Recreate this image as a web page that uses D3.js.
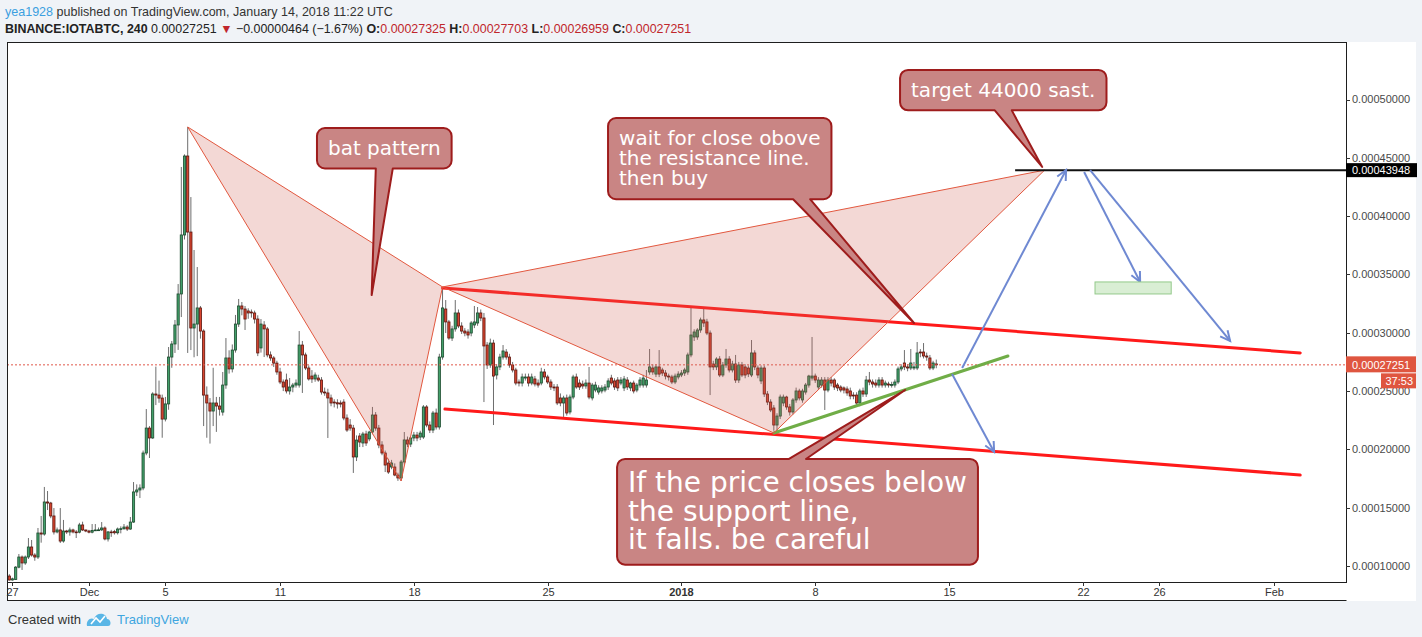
<!DOCTYPE html>
<html>
<head>
<meta charset="utf-8">
<script src="https://cdn.jsdelivr.net/npm/d3@7"></script>
<style>
  html, body { margin: 0; padding: 0; background: #f0f3f7; }
  svg { display: block; }
</style>
</head>
<body>
<svg id="chart" width="1422" height="637"></svg>
<script>
// BINANCE:IOTABTC 4h candles, prices in satoshi, first bar opens 2017-11-26 20:00 UTC
const firstBar = '2017-11-26T20:00:00Z';
const barHours = 4;
const ohlc = [
  [9140, 9300, 8750, 8800], [8800, 9000, 8750, 8900], [8850, 10000, 8800, 9900], [9900, 11030, 9800, 10770],
  [10770, 10900, 9660, 10260], [10260, 10900, 10100, 10770], [10770, 12400, 10600, 11630], [11630, 12230, 10800, 10940],
  [10940, 11100, 10450, 10770], [10770, 13260, 10600, 12830], [12830, 14290, 12000, 12740], [12740, 16780, 12600, 15490],
  [15490, 16430, 14800, 15400], [15400, 15500, 14100, 14290], [14290, 14970, 12700, 12920], [12920, 13300, 12800, 13090],
  [13090, 14970, 11970, 12140], [12140, 13950, 12000, 13000], [13000, 13100, 12750, 12920], [12920, 13300, 12600, 13090],
  [13090, 13200, 12800, 12920], [12920, 13090, 12400, 12900], [12900, 13700, 12800, 13520], [13520, 13800, 13000, 13090],
  [13090, 13100, 12900, 13000], [13000, 13100, 12800, 12900], [12900, 13600, 12800, 13050], [13050, 13600, 13000, 13090],
  [13090, 13300, 13000, 13100], [13100, 13770, 13000, 13260], [13260, 13400, 12200, 12320], [12320, 13000, 12100, 12920],
  [12920, 13100, 12500, 12900], [12950, 13100, 12700, 12850], [12850, 13300, 12700, 13170], [13170, 13400, 12800, 13200],
  [13200, 13600, 13100, 13340], [13340, 13500, 13000, 13170], [13170, 14200, 13100, 13770], [13770, 17200, 13700, 16350],
  [16350, 17000, 16000, 16520], [16520, 17000, 15830, 16690], [16690, 19900, 16500, 19690],
  [19690, 23460, 19500, 21830], [21830, 22000, 19260, 20980], [20980, 24900, 20900, 24750], [24750, 27100, 23800, 24660],
  [24660, 25900, 24000, 24400], [24400, 24700, 21000, 22600], [22600, 24500, 22400, 23900], [23900, 28780, 23400, 27920],
  [27920, 29300, 27000, 29040], [29040, 31100, 28270, 30670], [30670, 34180, 28530, 33330], [33330, 44220, 31350, 38390],
  [38390, 45300, 38000, 45160], [45160, 47650, 28270, 38640], [38640, 41640, 28520, 30410], [30410, 37100, 27900, 30750],
  [30750, 35640, 28000, 32130], [32130, 32300, 29500, 30150], [30150, 30300, 22000, 24660], [24660, 25400, 21000, 23980],
  [23980, 24400, 20500, 23290], [23290, 27000, 22000, 23980], [23980, 24500, 21500, 23720],
  [23720, 24500, 22900, 23450], [23200, 26640, 22900, 25520], [25520, 29550, 25200, 27840], [27840, 28500, 26500, 26900],
  [26900, 29000, 26600, 28520], [28520, 31530, 28300, 30750], [30750, 32900, 30500, 32300], [32300, 32640, 31500, 32040],
  [32040, 32300, 30240, 31180], [31870, 32100, 31200, 31700], [31780, 32000, 31300, 31700], [31700, 31900, 30800, 31180],
  [31180, 31500, 28000, 28270], [28700, 31180, 28300, 30750], [30670, 31000, 27920, 30330], [30330, 30500, 27900, 28100],
  [28100, 28400, 27600, 27840], [27840, 28000, 27070, 27400], [27400, 27600, 26400, 26640], [26640, 27000, 25600, 25780],
  [25780, 26000, 25000, 25350], [25950, 26500, 24800, 25010], [25010, 26120, 24700, 25350], [25350, 25700, 24900, 25520],
  [25520, 26000, 25300, 25690], [25520, 30150, 25300, 28950], [28950, 29300, 24840, 28100], [28100, 28300, 26800, 26980],
  [26980, 27200, 25900, 26040], [26290, 26800, 25700, 26040], [26040, 26600, 25800, 26380], [26120, 26400, 25800, 25950],
  [25950, 26200, 24700, 24920], [24920, 25300, 24600, 24840], [24840, 25200, 20980, 24410], [24410, 24700, 23700, 23980],
  [24060, 24300, 23600, 23980], [24000, 24300, 23500, 23900], [23980, 24200, 23600, 23890], [24060, 24300, 22500, 22690],
  [22690, 23000, 21500, 21660], [22090, 22600, 21600, 21830], [21830, 22100, 17980, 19350], [19350, 21200, 19000, 20800],
  [21150, 21400, 20200, 20630], [20550, 21500, 20200, 21320], [21320, 21600, 20300, 20550], [20900, 21600, 20700, 21490],
  [21490, 23640, 21300, 22950], [22950, 23200, 21600, 21830], [21830, 22100, 20100, 20380], [20380, 20700, 19500, 19690],
  [19690, 19900, 18060, 18660], [18830, 19200, 17900, 18060], [18490, 19100, 18300, 18830], [18490, 18800, 17700, 17800],
  [17800, 18000, 17300, 17550], [17550, 19100, 17290, 18920], [18920, 21490, 18700, 20810], [20810, 21100, 20200, 20460],
  [20460, 21000, 20200, 20980], [20980, 21500, 20700, 21230], [21230, 21500, 20700, 20980], [21060, 21600, 20800, 21400],
  [21060, 23800, 20900, 23640], [23640, 23800, 21900, 22090], [22090, 22400, 21400, 21660], [21660, 23300, 21400, 23120],
  [23120, 23500, 21700, 21920], [21920, 28200, 21700, 27920], [27920, 33930, 27700, 32130],
  [32040, 32810, 29980, 30930], [30930, 31100, 29400, 29550], [29550, 30600, 29300, 30330], [30330, 32810, 30100, 31700],
  [31700, 32000, 30400, 30580], [30580, 30900, 29900, 30150], [30150, 30400, 29700, 29980], [30070, 30300, 29500, 29810],
  [29980, 31000, 29700, 30840], [30670, 32300, 30400, 30930], [30840, 32210, 30600, 31700], [31700, 32000, 31000, 31270],
  [31270, 31700, 24060, 28870], [28950, 29200, 26900, 27240], [27240, 29500, 27000, 29120], [29120, 29400, 22090, 26290],
  [26380, 27300, 26000, 27070], [27070, 28200, 26800, 27920], [27920, 28950, 27700, 28440], [28350, 28600, 27700, 27920],
  [27920, 28200, 27000, 27240], [27240, 27500, 26600, 26810], [26810, 27000, 25500, 25690], [25780, 26000, 25400, 25690],
  [25690, 26500, 25400, 26210], [26120, 26500, 25900, 26210], [26210, 26500, 25400, 25690], [25690, 26500, 25500, 26210],
  [26040, 26300, 25400, 25610], [25690, 26000, 25300, 25520], [25690, 27000, 25500, 26640], [26640, 26900, 26000, 26210],
  [26210, 26400, 25600, 25780], [25780, 26000, 25100, 25350], [25350, 25600, 25000, 25270], [25350, 25600, 23800, 23980],
  [24410, 24800, 23700, 23980], [23980, 24600, 22780, 24410], [24410, 24700, 22900, 23120], [23210, 24700, 23000, 24490],
  [24490, 26400, 24300, 26210], [26210, 26500, 25200, 25350], [25690, 26000, 25100, 25350], [25600, 25900, 25200, 25440],
  [25440, 26000, 25200, 25690], [25690, 27070, 24300, 24490], [24410, 25700, 24200, 25520], [25090, 25800, 24900, 25520],
  [24920, 25500, 24700, 25270], [25010, 25500, 24800, 25270], [25090, 25600, 24900, 25350], [25350, 26100, 25100, 25870],
  [26120, 26400, 25500, 25690], [25870, 26100, 25100, 25350], [25950, 26200, 25000, 25270], [25690, 26200, 25500, 25950],
  [25270, 26300, 25000, 26040], [25950, 26200, 25100, 25350], [25270, 25800, 25000, 25690], [25690, 25900, 24800, 25010],
  [25090, 25700, 24900, 25520], [25520, 26200, 25300, 25950], [25520, 26400, 25300, 26120], [25520, 26810, 25300, 25950],
  [26640, 28610, 26400, 27070], [26980, 27300, 26400, 26640], [26460, 27300, 26200, 27070], [27070, 28520, 26200, 26460],
  [26810, 27000, 26300, 26550], [26550, 26800, 26000, 26290], [26290, 26500, 25900, 26210], [26210, 26400, 25600, 25780],
  [25780, 26500, 25600, 26290], [26210, 26700, 26000, 26460], [26380, 26800, 26200, 26550], [26550, 27000, 26300, 26810],
  [26640, 28300, 26400, 28100], [28100, 32130, 27900, 29810], [29640, 30300, 29300, 30070], [29640, 30400, 29400, 30240],
  [30240, 31300, 30000, 31100], [31100, 32040, 30500, 30840], [30930, 31200, 29800, 29980], [29980, 30200, 24660, 27070],
  [27320, 27600, 26800, 27070], [27070, 27900, 26800, 27750], [27750, 28000, 26200, 26380], [26380, 27500, 26200, 27240],
  [27240, 28610, 27000, 27750], [27750, 28000, 26600, 26810], [26810, 27600, 26600, 27320], [27320, 28100, 25700, 25950],
  [25950, 27500, 25700, 27240], [27240, 27500, 26200, 26380], [27070, 27300, 26100, 26380], [26980, 27200, 26200, 26470],
  [26380, 29380, 26200, 28270], [28270, 28500, 26800, 27070], [26980, 27200, 26100, 26380], [25870, 27200, 25600, 26980],
  [26980, 27200, 24500, 24750], [24750, 25000, 23800, 24060], [24060, 24300, 23200, 23380], [23550, 23800, 21600, 22090],
  [22090, 23100, 21410, 22860], [22860, 24700, 22600, 24490], [23980, 24700, 23700, 24490], [24490, 24600, 23400, 23640],
  [23640, 23900, 22900, 23210], [23210, 24400, 23000, 24240], [24240, 25300, 24000, 25010], [25010, 25200, 24200, 24410],
  [24240, 25200, 24000, 25010], [24920, 25700, 24700, 25520], [25520, 26400, 25300, 26290], [26120, 29640, 25900, 26290],
  [26290, 26500, 25700, 25950], [25350, 26200, 25100, 25950], [25520, 26200, 25300, 25950], [25950, 26200, 23380, 25090],
  [25090, 26200, 24900, 25950], [25950, 26200, 25400, 25690], [25950, 26100, 25100, 25350], [25520, 25700, 25000, 25270],
  [25350, 25500, 24900, 25090], [25270, 25400, 24800, 25090], [25180, 25400, 24600, 24840],
  [25010, 25300, 24300, 24580], [24660, 24900, 24300, 24580], [24660, 24900, 23800, 23980], [23980, 25200, 23700, 25010],
  [25010, 25300, 24500, 24750], [24750, 26300, 24500, 25950], [25950, 26640, 25500, 25780], [25780, 26000, 25300, 25610],
  [25690, 26000, 25300, 25520], [25520, 26200, 25300, 25950], [25950, 26200, 25300, 25520], [25520, 25900, 25300, 25690],
  [25610, 25800, 25300, 25520], [25520, 25800, 25300, 25560], [25520, 26000, 25300, 25780], [25780, 27100, 25600, 26900],
  [26900, 27300, 26700, 27070], [27410, 28520, 26800, 27070], [27070, 27300, 26700, 26980], [26980, 28610, 26800, 27410],
  [26980, 27500, 26800, 27070], [26980, 29210, 26800, 28270], [28350, 28600, 27900, 28270], [28350, 29120, 27800, 28010],
  [28010, 28300, 27600, 27920], [27840, 28100, 26800, 26980], [26980, 27600, 26800, 27410], [27325, 27703, 26959, 27251]
];

const priceTicks = [0.0001, 0.00015, 0.0002, 0.00025, 0.0003, 0.00035, 0.0004, 0.00045, 0.0005];
const timeTicks = [
  ['2017-11-27', '27'], ['2017-12-01', 'Dec'], ['2017-12-05', '5'], ['2017-12-11', '11'],
  ['2017-12-18', '18'], ['2017-12-25', '25'], ['2018-01-01', '2018'], ['2018-01-08', '8'],
  ['2018-01-15', '15'], ['2018-01-22', '22'], ['2018-01-26', '26'], ['2018-02-01', 'Feb']
];
const boldTickLabels = ['2018'];

const lastPrice = 0.00027251;
const targetPrice = 0.00043948;
const barCountdown = '37:53';

// drawings, anchored as [time (UTC), price in satoshi]
const batPoints = [
  ['2017-12-06T04:00', 47650], ['2017-12-17T08:00', 17290], ['2017-12-19T12:00', 33930],
  ['2018-01-05T20:00', 21410], ['2018-01-20T00:00', 43948]
];
const resistanceLine = [['2017-12-19T12:00', 33840], ['2018-02-02T09:00', 28270]];
const supportLine = [['2017-12-19T15:00', 23460], ['2018-02-02T09:00', 17800]];
const trendLine = [['2018-01-05T20:00', 21410], ['2018-01-18T02:00', 28010]];
const targetLineFrom = '2018-01-18T11:00';
const projectionArrows = [
  [['2018-01-15T16:30', 26980], ['2018-01-21T03:00', 43960]],
  [['2018-01-22T01:40', 43790], ['2018-01-25T00:00', 34360]],
  [['2018-01-22T09:10', 43960], ['2018-01-29T17:00', 29300]],
  [['2018-01-15T03:50', 26470], ['2018-01-17T08:40', 19780]]
];
const targetZone = [['2018-01-22T15:20', 34360], ['2018-01-26T15:00', 33330]];

const calloutText = [
  ['bat pattern'],
  ['wait for close obove', 'the resistance line.', 'then buy'],
  ['target 44000 sast.'],
  ['If the price closes below', 'the support line,', 'it falls. be careful']
];
const calloutBox = [
  ['2017-12-12T22:20', 47560], ['2017-12-28T03:50', 48420],
  ['2018-01-12T10:30', 52540], ['2017-12-28T15:10', 19180]
];
const calloutTip = [
  ['2017-12-15T19:00', 33240], ['2018-01-13T04:00', 30840],
  ['2018-01-19T21:00', 44220], ['2018-01-12T16:50', 25090]
];
const calloutFontSize = [20, 20, 20, 28];
const calloutBaseAt = [0.5, 0.93, 0.5, 0.5];

// ---- layout ----
const plot = {left: 7, right: 1346, top: 42, bottom: 582};
const axisRight = 1416;
const svg = d3.select('#chart');

const x = d3.scaleUtc()
  .domain([new Date('2017-11-26T18:21:00Z'), new Date('2018-02-04T18:30:00Z')])
  .range([8, plot.right]);
const y = d3.scaleLinear()
  .domain([0.00008628, 0.00054938])
  .range([plot.bottom, plot.top]);

const sat = v => v / 1e8;
const t = s => new Date(s.length <= 10 ? s + 'T00:00:00Z' : s + ':00Z');
const pt = ([ts, p]) => [x(t(ts)), y(sat(p))];

const bars = ohlc.map((r, i) => ({
  t: new Date(Date.parse(firstBar) + i * barHours * 3600e3),
  o: sat(r[0]), h: sat(r[1]), l: sat(r[2]), c: sat(r[3])
}));

// backgrounds
svg.append('rect').attr('width', 1422).attr('height', 637).attr('fill', '#f0f3f7');
svg.append('rect')
  .attr('x', plot.left).attr('y', plot.top)
  .attr('width', axisRight - plot.left).attr('height', 601 - plot.top)
  .attr('fill', '#ffffff');

svg.append('clipPath').attr('id', 'plotclip')
  .append('rect')
  .attr('x', plot.left).attr('y', plot.top)
  .attr('width', plot.right - plot.left).attr('height', plot.bottom - plot.top);

const g = svg.append('g').attr('clip-path', 'url(#plotclip)');

// candles
const bodyW = 2.2;
g.append('g').selectAll('line').data(bars).join('line')
  .attr('x1', d => x(d.t)).attr('x2', d => x(d.t))
  .attr('y1', d => y(d.h)).attr('y2', d => y(d.l))
  .attr('stroke', '#6e6e6e').attr('stroke-width', 1);

g.append('g').selectAll('rect').data(bars).join('rect')
  .attr('x', d => x(d.t) - bodyW / 2)
  .attr('y', d => y(Math.max(d.o, d.c)))
  .attr('width', bodyW)
  .attr('height', d => Math.max(0.8, Math.abs(y(d.o) - y(d.c))))
  .attr('fill', d => d.c >= d.o ? '#42a06a' : '#d8452f')
  .attr('stroke', d => d.c >= d.o ? '#1c4a2e' : '#5c150d')
  .attr('stroke-width', 0.8);

// last price dotted line
g.append('line')
  .attr('x1', plot.left).attr('x2', plot.right)
  .attr('y1', y(lastPrice)).attr('y2', y(lastPrice))
  .attr('stroke', '#e0574a').attr('stroke-width', 1).attr('stroke-dasharray', '2,2');

// channel and trend lines
const seg = (pts, color, w) => {
  const [a, b] = pts.map(pt);
  g.append('line')
    .attr('x1', a[0]).attr('y1', a[1]).attr('x2', b[0]).attr('y2', b[1])
    .attr('stroke', color).attr('stroke-width', w).attr('stroke-linecap', 'round');
};
seg(resistanceLine, '#ff1a1a', 3);
seg(supportLine, '#ff1a1a', 3);
seg(trendLine, '#70ad47', 3);

// bat pattern (XAB and BCD triangles)
const bp = batPoints.map(pt);
[[0, 1, 2], [2, 3, 4]].forEach(tri => {
  g.append('path')
    .attr('d', d3.line()(tri.map(k => bp[k])) + 'Z')
    .attr('fill', 'rgb(207,99,87)').attr('fill-opacity', 0.25)
    .attr('stroke', '#e2583f').attr('stroke-width', 1);
});

// target horizontal line
g.append('line')
  .attr('x1', x(t(targetLineFrom))).attr('x2', plot.right)
  .attr('y1', y(targetPrice)).attr('y2', y(targetPrice))
  .attr('stroke', '#111').attr('stroke-width', 2);

// projection arrows
projectionArrows.forEach(a => {
  const [p0, p1] = a.map(pt);
  const ang = Math.atan2(p1[1] - p0[1], p1[0] - p0[0]);
  const head = 11, spread = 0.45;
  g.append('line')
    .attr('x1', p0[0]).attr('y1', p0[1]).attr('x2', p1[0]).attr('y2', p1[1])
    .attr('stroke', '#6f89d2').attr('stroke-width', 2);
  g.append('path')
    .attr('d', d3.line()([
      [p1[0] - head * Math.cos(ang - spread), p1[1] - head * Math.sin(ang - spread)],
      p1,
      [p1[0] - head * Math.cos(ang + spread), p1[1] - head * Math.sin(ang + spread)]
    ]))
    .attr('fill', 'none').attr('stroke', '#6f89d2').attr('stroke-width', 2);
});

// target zone rectangle
{
  const [a, b] = targetZone.map(pt);
  g.append('rect')
    .attr('x', a[0]).attr('y', a[1]).attr('width', b[0] - a[0]).attr('height', b[1] - a[1])
    .attr('fill', '#d9eed4').attr('stroke', '#93c98a').attr('stroke-width', 1);
}

// callouts
function calloutPath(bx, by, w, h, r, tip, baseAt, half) {
  const [tx, ty] = tip;
  const cx = bx + r + half + (w - 2 * r - 2 * half) * baseAt;
  if (ty > by + h) {
    return `M${bx + r},${by} H${bx + w - r} A${r},${r} 0 0 1 ${bx + w},${by + r} V${by + h - r}` +
      ` A${r},${r} 0 0 1 ${bx + w - r},${by + h} H${cx + half} L${tx},${ty} L${cx - half},${by + h}` +
      ` H${bx + r} A${r},${r} 0 0 1 ${bx},${by + h - r} V${by + r} A${r},${r} 0 0 1 ${bx + r},${by} Z`;
  }
  return `M${bx + r},${by} H${cx - half} L${tx},${ty} L${cx + half},${by} H${bx + w - r}` +
    ` A${r},${r} 0 0 1 ${bx + w},${by + r} V${by + h - r} A${r},${r} 0 0 1 ${bx + w - r},${by + h}` +
    ` H${bx + r} A${r},${r} 0 0 1 ${bx},${by + h - r} V${by + r} A${r},${r} 0 0 1 ${bx + r},${by} Z`;
}

const cg = svg.append('g');
calloutText.forEach((lines, k) => {
  const fs = calloutFontSize[k];
  const lh = fs * 1.02;
  const [bx, by] = pt(calloutBox[k]);
  const grp = cg.append('g');
  const path = grp.append('path');
  const txt = grp.append('text')
    .attr('font-family', '"DejaVu Sans", Verdana, sans-serif')
    .attr('font-size', fs).attr('fill', '#ffffff');
  lines.forEach((s, j) => {
    txt.append('tspan').attr('x', bx + 11).attr('y', by + 10 + fs * 0.83 + j * lh).text(s);
  });
  const w = txt.node().getBBox().width + 22;
  const h = lines.length * lh + 20;
  path.attr('d', calloutPath(bx, by, w, h, 8, pt(calloutTip[k]), calloutBaseAt[k], 8.5))
    .attr('fill', '#c98584').attr('stroke', '#9e1c1c').attr('stroke-width', 2)
    .attr('stroke-linejoin', 'round');
});

// plot frame
svg.append('rect')
  .attr('x', plot.left + 0.5).attr('y', plot.top + 0.5)
  .attr('width', plot.right - plot.left).attr('height', plot.bottom - plot.top)
  .attr('fill', 'none').attr('stroke', '#1e1e1e').attr('stroke-width', 1);
svg.append('line')
  .attr('x1', plot.left).attr('x2', plot.right + 0.5).attr('y1', 600.5).attr('y2', 600.5)
  .attr('stroke', '#1e1e1e');
svg.append('line')
  .attr('x1', plot.left + 0.5).attr('x2', plot.left + 0.5).attr('y1', plot.bottom).attr('y2', 601)
  .attr('stroke', '#1e1e1e');

// price axis
const ax = svg.append('g').attr('font-family', '"Liberation Sans", Arial, sans-serif').attr('font-size', 11);
priceTicks.forEach(p => {
  ax.append('line').attr('x1', plot.right).attr('x2', plot.right + 4)
    .attr('y1', Math.round(y(p)) + 0.5).attr('y2', Math.round(y(p)) + 0.5).attr('stroke', '#333');
  ax.append('text').attr('x', plot.right + 6).attr('y', y(p)).attr('dy', '0.35em')
    .attr('fill', '#4a4a4a').text(d3.format('.8f')(p));
});

// time axis
timeTicks.forEach(([d, lab]) => {
  const xx = Math.round(x(t(d))) + 0.5;
  ax.append('line').attr('x1', xx).attr('x2', xx).attr('y1', plot.bottom).attr('y2', plot.bottom + 4)
    .attr('stroke', '#333');
  ax.append('text').attr('x', xx).attr('y', 596).attr('text-anchor', 'middle')
    .attr('fill', '#333').attr('font-weight', boldTickLabels.includes(lab) ? 'bold' : 'normal')
    .text(lab);
});

// last price label + countdown
{
  const yy = y(lastPrice);
  ax.append('rect').attr('x', plot.right).attr('y', yy - 8.5).attr('width', axisRight - plot.right).attr('height', 16)
    .attr('fill', '#df5640');
  ax.append('text').attr('x', plot.right + 6).attr('y', yy).attr('dy', '0.35em').attr('fill', '#fff')
    .text(d3.format('.8f')(lastPrice));
  ax.append('rect').attr('x', 1381).attr('y', yy + 8.5).attr('width', axisRight - 1381).attr('height', 15)
    .attr('fill', '#df5640');
  ax.append('text').attr('x', axisRight - 3).attr('y', yy + 16).attr('dy', '0.35em').attr('text-anchor', 'end')
    .attr('fill', '#fff').text(barCountdown);
}
// target price label
{
  const yy = y(targetPrice);
  ax.append('rect').attr('x', plot.right).attr('y', yy - 7).attr('width', axisRight - plot.right + 1).attr('height', 14)
    .attr('fill', '#000');
  ax.append('text').attr('x', plot.right + 6).attr('y', yy).attr('dy', '0.35em').attr('fill', '#fff')
    .text(d3.format('.8f')(targetPrice));
}

// header
const hd = svg.append('g').attr('font-family', '"Liberation Sans", Arial, sans-serif');
const l1 = hd.append('text').attr('x', 5).attr('y', 16).attr('font-size', 13).attr('fill', '#333');
l1.append('tspan').attr('fill', '#3b9fe0').text('yea1928');
l1.append('tspan').text(' published on TradingView.com, January 14, 2018 11:22 UTC');

const red = '#c0262b';
const l2 = hd.append('text').attr('x', 5).attr('y', 33).attr('font-size', 13).attr('fill', '#222');
[
  ['BINANCE:IOTABTC, 240', 'bold', '#222'], [' 0.00027251 ', 'normal', '#222'], ['▼', 'normal', red],
  [' \u22120.00000464 (\u22121.67%) ', 'normal', '#222'],
  ['O:', 'bold', '#222'], ['0.00027325', 'normal', red], [' H:', 'bold', '#222'], ['0.00027703', 'normal', red],
  [' L:', 'bold', '#222'], ['0.00026959', 'normal', red], [' C:', 'bold', '#222'], ['0.00027251', 'normal', red]
].forEach(([s, wgt, col]) => l2.append('tspan').attr('font-weight', wgt).attr('fill', col).text(s));

const fit = (sel, target) => {
  const w = sel.node().getComputedTextLength();
  sel.attr('font-size', 13 * target / w);
};
fit(l1, 388);
fit(l2, 687);

// footer
const ft = svg.append('g').attr('font-family', '"Liberation Sans", Arial, sans-serif').attr('font-size', 13);
ft.append('text').attr('x', 8).attr('y', 624).attr('fill', '#333').text('Created with');
ft.append('path')
  .attr('d', 'M87,626 C86,621 90,617 94,619 C96,612 106,612 107,619 C111,619 112,626 108,626 Z')
  .attr('fill', '#5ab6e6');
ft.append('path')
  .attr('d', 'M91,624 L96,618 L100,622 L105,616')
  .attr('fill', 'none').attr('stroke', '#fff').attr('stroke-width', 1.6);
ft.append('text').attr('x', 117).attr('y', 624).attr('fill', '#3ea6e0').text('TradingView');
</script>
</body>
</html>
